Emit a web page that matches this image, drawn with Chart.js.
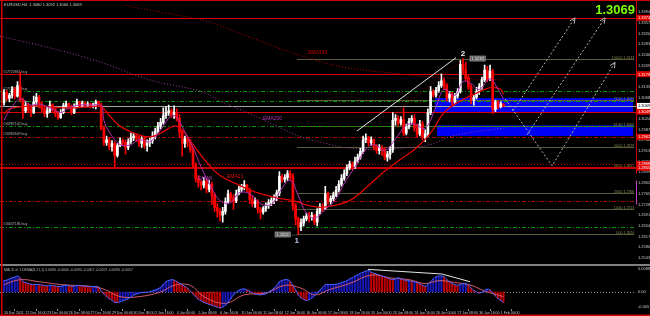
<!DOCTYPE html>
<html>
<head>
<meta charset="utf-8">
<title>EURUSD H4</title>
<script src="https://cdn.jsdelivr.net/npm/chart.js@4.4.1/dist/chart.umd.min.js"></script>
<style>
  html, body { margin: 0; padding: 0; background: #000; }
  #wrap { position: relative; width: 650px; height: 316px; overflow: hidden; background: #000; }
  canvas { position: absolute; left: 0; }
  #main { top: 0; }
  #macd { top: 264px; }
</style>
</head>
<body>
<div id="wrap">
  <canvas id="main" width="650" height="264"></canvas>
  <canvas id="macd" width="650" height="52"></canvas>
</div>
<script>
// EURUSD H4, 20 Dec 2011 08:00 .. 1 Feb 2012 04:00 (bar index 0..185)
const firstOpen = 1.3079;
const closes = [
  1.3116,1.3096,1.3106,1.3126,1.3103,1.3139,1.3089,1.3052,1.3072,1.3056,
  1.3046,1.3083,1.3099,1.3072,1.3059,1.3042,1.3052,1.3072,1.3059,1.3042,
  1.3029,1.3046,1.3069,1.3076,1.3066,1.3046,1.3066,1.3083,1.3072,1.3079,
  1.3072,1.3076,1.3069,1.3072,1.3083,1.3072,1.2992,1.2942,1.2952,1.2928,
  1.2939,1.2898,1.2932,1.2949,1.2942,1.2925,1.2945,1.2959,1.2965,1.2959,
  1.2939,1.2955,1.2932,1.2942,1.2949,1.2965,1.2982,1.2999,1.3012,1.3036,
  1.3046,1.3052,1.3039,1.3046,1.3026,1.2979,1.2939,1.2955,1.2945,1.2918,
  1.2865,1.2818,1.2805,1.2795,1.2808,1.2781,1.2798,1.2761,1.2718,1.2704,
  1.2691,1.2704,1.2738,1.2765,1.2751,1.2741,1.2765,1.2781,1.2788,1.2795,
  1.2778,1.2745,1.2731,1.2738,1.2711,1.2701,1.2714,1.2724,1.2734,1.2741,
  1.2751,1.2768,1.2825,1.2815,1.2821,1.2835,1.2825,1.2724,1.2678,1.2651,
  1.2664,1.2678,1.2688,1.2684,1.2691,1.2667,1.2704,1.2721,1.2714,1.2765,
  1.2738,1.2748,1.2761,1.2778,1.2798,1.2818,1.2835,1.2855,1.2868,1.2858,
  1.2878,1.2892,1.2912,1.2952,1.2959,1.2942,1.2952,1.2928,1.2915,1.2925,
  1.2918,1.2892,1.2902,1.2918,1.3019,1.3026,1.3009,1.3022,1.2975,1.2996,
  1.3016,1.3026,1.2992,1.2972,1.3006,1.2959,1.2972,1.3046,1.3119,1.3106,
  1.3123,1.3139,1.3156,1.3139,1.3096,1.3109,1.3083,1.3103,1.3119,1.3213,
  1.3193,1.3166,1.3136,1.3089,1.3099,1.3119,1.3136,1.3159,1.3193,1.3163,
  1.3190,1.3056,1.3083,1.3066,1.3076,1.3069
];
const highs = [
  1.3126,1.3123,1.3113,1.3136,1.3133,1.3153,1.3186,1.3096,1.3086,1.3079,
  1.3069,1.3103,1.3113,1.3106,1.3083,1.3069,1.3066,1.3086,1.3076,1.3062,
  1.3049,1.3056,1.3079,1.3086,1.3079,1.3072,1.3076,1.3093,1.3086,1.3086,
  1.3083,1.3083,1.3079,1.3079,1.3089,1.3086,1.3079,1.2999,1.2965,1.2959,
  1.2949,1.2945,1.2939,1.2959,1.2955,1.2952,1.2955,1.2975,1.2975,1.2972,
  1.2965,1.2965,1.2962,1.2952,1.2959,1.2979,1.2992,1.3012,1.3026,1.3062,
  1.3066,1.3072,1.3059,1.3069,1.3059,1.3039,1.2986,1.2965,1.2962,1.2952,
  1.2925,1.2872,1.2828,1.2811,1.2821,1.2815,1.2811,1.2805,1.2768,1.2731,
  1.2714,1.2718,1.2751,1.2778,1.2771,1.2761,1.2778,1.2791,1.2798,1.2811,
  1.2798,1.2785,1.2758,1.2751,1.2745,1.2718,1.2721,1.2734,1.2745,1.2751,
  1.2761,1.2778,1.2842,1.2831,1.2831,1.2845,1.2845,1.2835,1.2731,1.2684,
  1.2678,1.2688,1.2698,1.2701,1.2701,1.2694,1.2714,1.2731,1.2731,1.2791,
  1.2771,1.2758,1.2771,1.2791,1.2811,1.2831,1.2848,1.2865,1.2878,1.2875,
  1.2892,1.2902,1.2922,1.2965,1.2972,1.2965,1.2962,1.2955,1.2935,1.2935,
  1.2932,1.2925,1.2912,1.2928,1.3046,1.3039,1.3036,1.3032,1.3062,1.3006,
  1.3026,1.3036,1.3039,1.3006,1.3019,1.3016,1.2986,1.3059,1.3136,1.3126,
  1.3133,1.3153,1.3180,1.3166,1.3146,1.3119,1.3116,1.3113,1.3129,1.3226,
  1.3233,1.3220,1.3176,1.3143,1.3106,1.3133,1.3146,1.3169,1.3210,1.3206,
  1.3210,1.3196,1.3089,1.3086,1.3083,1.3076
];
const lows = [
  1.3072,1.3086,1.3083,1.3096,1.3093,1.3099,1.3083,1.3026,1.3046,1.3046,
  1.3032,1.3042,1.3072,1.3062,1.3049,1.3032,1.3029,1.3046,1.3046,1.3032,
  1.3022,1.3026,1.3042,1.3062,1.3059,1.3039,1.3042,1.3062,1.3066,1.3066,
  1.3066,1.3066,1.3062,1.3062,1.3059,1.3066,1.2986,1.2932,1.2932,1.2918,
  1.2912,1.2858,1.2892,1.2928,1.2932,1.2902,1.2918,1.2939,1.2949,1.2945,
  1.2928,1.2925,1.2922,1.2912,1.2928,1.2939,1.2955,1.2975,1.2989,1.3006,
  1.3026,1.3036,1.3029,1.3026,1.3016,1.2959,1.2895,1.2925,1.2928,1.2908,
  1.2855,1.2805,1.2788,1.2778,1.2785,1.2768,1.2771,1.2728,1.2704,1.2684,
  1.2671,1.2667,1.2694,1.2731,1.2738,1.2711,1.2734,1.2761,1.2771,1.2778,
  1.2771,1.2731,1.2721,1.2718,1.2698,1.2678,1.2694,1.2704,1.2714,1.2724,
  1.2731,1.2741,1.2758,1.2805,1.2805,1.2811,1.2815,1.2708,1.2657,1.2624,
  1.2637,1.2654,1.2671,1.2667,1.2674,1.2657,1.2654,1.2694,1.2704,1.2711,
  1.2728,1.2728,1.2741,1.2755,1.2771,1.2791,1.2811,1.2828,1.2848,1.2848,
  1.2852,1.2872,1.2885,1.2905,1.2942,1.2932,1.2932,1.2918,1.2905,1.2902,
  1.2898,1.2882,1.2878,1.2885,1.2908,1.3002,1.2999,1.3002,1.2965,1.2969,
  1.2989,1.3006,1.2982,1.2962,1.2965,1.2952,1.2945,1.2962,1.3039,1.3099,
  1.3099,1.3116,1.3133,1.3126,1.3086,1.3083,1.3072,1.3076,1.3096,1.3113,
  1.3180,1.3156,1.3126,1.3076,1.3072,1.3093,1.3109,1.3126,1.3153,1.3153,
  1.3156,1.3042,1.3049,1.3059,1.3062,1.3066
];

// MACD panel, one value per bar, signal read at fewer points
const macdValues = [
  0.0044,0.0046,0.0051,0.0055,0.0058,0.0062,0.0055,0.0040,0.0037,0.0033,
  0.0030,0.0029,0.0030,0.0029,0.0027,0.0025,0.0024,0.0026,0.0025,0.0023,
  0.0021,0.0022,0.0025,0.0026,0.0025,0.0022,0.0023,0.0026,0.0025,0.0024,
  0.0023,0.0022,0.0021,0.0021,0.0022,0.0020,0.0004,-0.0008,-0.0018,-0.0026,
  -0.0032,-0.0040,-0.0041,-0.0038,-0.0034,-0.0030,-0.0026,-0.0020,-0.0012,-0.0008,
  -0.0004,-0.0002,-0.0001,-0.0001,0.0002,0.0004,0.0008,0.0012,0.0018,0.0030,
  0.0040,0.0045,0.0048,0.0046,0.0041,0.0034,0.0028,0.0022,0.0015,0.0004,
  -0.0007,-0.0018,-0.0029,-0.0034,-0.0040,-0.0044,-0.0048,-0.0051,-0.0055,-0.0059,
  -0.0062,-0.0058,-0.0051,-0.0040,-0.0026,-0.0011,-0.0001,0.0007,0.0011,0.0012,
  0.0008,0.0003,-0.0004,-0.0007,-0.0010,-0.0011,-0.0010,-0.0007,-0.0001,0.0007,
  0.0015,0.0025,0.0040,0.0045,0.0048,0.0048,0.0041,0.0025,0.0008,-0.0011,
  -0.0022,-0.0029,-0.0033,-0.0030,-0.0023,-0.0015,-0.0004,0.0007,0.0018,0.0029,
  0.0029,0.0029,0.0030,0.0030,0.0033,0.0037,0.0040,0.0044,0.0051,0.0055,
  0.0062,0.0066,0.0073,0.0077,0.0081,0.0084,0.0077,0.0073,0.0070,0.0066,
  0.0062,0.0059,0.0055,0.0051,0.0048,0.0051,0.0055,0.0051,0.0048,0.0044,
  0.0044,0.0040,0.0040,0.0037,0.0033,0.0026,0.0022,0.0029,0.0040,0.0051,
  0.0059,0.0062,0.0062,0.0059,0.0048,0.0040,0.0033,0.0029,0.0026,0.0029,
  0.0033,0.0033,0.0026,0.0015,0.0007,0.0000,-0.0004,-0.0001,0.0007,0.0011,
  0.0008,-0.0004,-0.0015,-0.0026,-0.0033,-0.0040
];
const signalBars = [0, 6, 13, 21, 32, 37, 43, 50, 58, 63, 69, 74, 82, 89, 97, 104, 110, 115, 121, 128, 136, 143, 150, 156, 161, 167, 173, 178, 185];
const signalValues = [0.0029, 0.0048, 0.0040, 0.0029, 0.0022, 0.0011, -0.0018, -0.0018, 0.0000, 0.0026, 0.0026, -0.0018, -0.0044, -0.0011, -0.0004, 0.0026, 0.0015, -0.0011, 0.0011, 0.0033, 0.0066, 0.0055, 0.0048, 0.0033, 0.0044, 0.0037, 0.0026, 0.0004, -0.0018];

// moving averages
const ema8Bars = [0, 2, 6, 10, 13, 17, 21, 24, 28, 32, 36, 37, 39, 43, 47, 50, 54, 58, 62, 64, 67, 70, 73, 76, 80, 84, 87, 91, 95, 99, 102, 106, 109, 112, 115, 119, 123, 126, 130, 134, 137, 141, 145, 149, 152, 156, 160, 163, 167, 170, 173, 176, 180, 183, 185];
const ema8Values = [1.3019, 1.3052, 1.3093, 1.3072, 1.3076, 1.3062, 1.3046, 1.3062, 1.3072, 1.3072, 1.3069, 1.3019, 1.2979, 1.2935, 1.2935, 1.2952, 1.2945, 1.2986, 1.3036, 1.3029, 1.2979, 1.2925, 1.2858, 1.2801, 1.2741, 1.2734, 1.2768, 1.2765, 1.2731, 1.2728, 1.2771, 1.2811, 1.2758, 1.2698, 1.2681, 1.2711, 1.2748, 1.2801, 1.2858, 1.2918, 1.2935, 1.2915, 1.2955, 1.3002, 1.3006, 1.2992, 1.3066, 1.3126, 1.3106, 1.3153, 1.3146, 1.3126, 1.3163, 1.3126, 1.3093];
const ema21Bars = [0, 2, 6, 12, 17, 24, 32, 36, 39, 43, 49, 54, 58, 62, 64, 67, 70, 75, 80, 87, 94, 101, 107, 113, 117, 122, 128, 134, 140, 147, 152, 158, 163, 169, 174, 178, 181, 184, 185];
const ema21Values = [1.3042, 1.3059, 1.3066, 1.3069, 1.3066, 1.3062, 1.3066, 1.3066, 1.3036, 1.2999, 1.2972, 1.2962, 1.2975, 1.2996, 1.2999, 1.2975, 1.2935, 1.2875, 1.2828, 1.2795, 1.2768, 1.2751, 1.2741, 1.2724, 1.2718, 1.2724, 1.2741, 1.2785, 1.2835, 1.2885, 1.2918, 1.2975, 1.3046, 1.3086, 1.3109, 1.3126, 1.3133, 1.3126, 1.3109];
const ema200Bars = [-1.5, 17, 36, 54, 73, 80, 91, 102, 110, 121, 126, 139, 150, 158, 165, 174, 185];
const ema200Values = [1.3310, 1.3270, 1.3220, 1.3159, 1.3119, 1.3086, 1.3042, 1.2995, 1.2962, 1.2935, 1.2925, 1.2918, 1.2925, 1.2935, 1.2962, 1.2979, 1.2992];
const ema365Bars = [39, 47, 58, 73, 80, 95, 110, 126, 147, 158, 173, 185];
const ema365Values = [1.3437, 1.3414, 1.3394, 1.3367, 1.3347, 1.3293, 1.3243, 1.3203, 1.3180, 1.3169, 1.3163, 1.3159];
const emaLabelText = ['EMA365', 'EMA200', 'EMA21', 'EMA8'];
const emaLabelBars = [112.6, 95.9, 82.6, 71.9];
const emaLabelPrices = [1.3250, 1.3022, 1.2821, 1.2811];

// axes
const xMin = -1.48, xMax = 234.07;
const xTickBars = [0, 8, 16, 24, 32, 40, 48, 56, 64, 72, 80, 88, 96, 104, 112, 120, 128, 136, 144, 152, 160, 168, 176, 184];
const xTickLabels = ['20 Dec 2011', '21 Dec 16:00', '23 Dec 00:00', '26 Dec 08:00', '27 Dec 16:00', '29 Dec 00:00',
  '30 Dec 08:00', '2 Jan 16:00', '4 Jan 00:00', '5 Jan 08:00', '6 Jan 16:00', '10 Jan 00:00', '11 Jan 08:00',
  '12 Jan 16:00', '16 Jan 00:00', '17 Jan 08:00', '18 Jan 16:00', '20 Jan 00:00', '23 Jan 08:00', '24 Jan 16:00',
  '26 Jan 00:00', '27 Jan 08:00', '30 Jan 16:00', '1 Feb 00:00'];
const priceTicks = [1.2543, 1.2580, 1.2617, 1.2654, 1.2691, 1.2728, 1.2765, 1.2802, 1.2839, 1.2876, 1.2913, 1.2950,
  1.2987, 1.3024, 1.3061, 1.3098, 1.3135, 1.3172, 1.3209, 1.3246, 1.3283, 1.3320, 1.3357, 1.3394];
const macdTicks = [-0.0057, 0, 0.0088];

// levels and objects on the chart
const solidRedLevels = [1.3374, 1.3179, 1.3049];
const thickRedLevels = [1.2855];
const dashRedLevels = [1.2962, 1.2741];
const dotRedLevels = [1.2868];
const greenLevels = [1.3119, 1.3086, 1.2999, 1.2651];
const axisRedLevels = [1.3374, 1.3179, 1.3049, 1.2962, 1.2868, 1.2855];
const orderLevels = [1.3179, 1.3119, 1.2999, 1.2962, 1.2651];
const orderTickets = ['#17725861 buy', '#17728530 buy', '#16987102 buy', '#16982609 buy', '#16637186 buy'];

const fibLow = 1.2624, fibHigh = 1.3233, fibFromBar = 108.5, fibToBar = 233.4;
const fibLevels = [0, 14.6, 23.6, 38.2, 50, 61.8, 76.4, 100];

const zoneHigh = [1.3096, 1.3002];
const zoneLow = [1.3046, 1.2965];
const zoneFrom = [159.6, 160.4];
const zoneTo = [233, 233];

const trendBars = [130.7, 167.4], trendPrices = [1.2982, 1.3236];
const channelBars = [144.8, 168.9], channelPrices = [1.3046, 1.3220];
const arrowABars = [188.5, 211.5], arrowAPrices = [1.3052, 1.3374];
const arrowBBars = [193.7, 222.6], arrowBPrices = [1.2969, 1.3374];
const arrowCBars = [185.6, 203, 226.3], arrowCPrices = [1.3093, 1.2862, 1.3220];
const waveBars = [109, 170];
const divergenceBars = [134.8, 162.2, 172.6], divergenceValues = [0.0088, 0.0070, 0.0040];

const FONT = 'Liberation Sans';
Chart.defaults.font.family = FONT;

const opens = closes.map((c, i) => i === 0 ? firstOpen : closes[i - 1]);
const candleColors = closes.map((c, i) => c >= opens[i] ? '#ffffff' : '#ff0000');
const pts = (bars, vals) => bars.map((b, k) => ({ x: b, y: vals[k] }));

function path(ctx, p, color, width, dash) {
    ctx.save();
    ctx.strokeStyle = color;
    ctx.lineWidth = width;
    ctx.setLineDash(dash || []);
    ctx.beginPath();
    p.forEach((q, k) => k ? ctx.lineTo(q[0], q[1]) : ctx.moveTo(q[0], q[1]));
    ctx.stroke();
    ctx.restore();
}

function arrowHead(ctx, from, to, color) {
    const a = Math.atan2(to[1] - from[1], to[0] - from[0]);
    path(ctx, [
        [to[0] - 6 * Math.cos(a - 0.45), to[1] - 6 * Math.sin(a - 0.45)],
        to,
        [to[0] - 6 * Math.cos(a + 0.45), to[1] - 6 * Math.sin(a + 0.45)]
    ], color, 1);
}

function label(ctx, str, x, y, color, font, align) {
    ctx.save();
    ctx.font = font;
    ctx.fillStyle = color;
    ctx.textAlign = align || 'left';
    ctx.textBaseline = 'alphabetic';
    ctx.fillText(str, x, y);
    ctx.restore();
}

function priceBox(ctx, str, x, yc, alignRight) {
    ctx.save();
    ctx.font = '4px ' + FONT;
    const w = ctx.measureText(str).width + 3;
    const x0 = alignRight ? x - w : x;
    ctx.fillStyle = '#5c5c5c';
    ctx.fillRect(x0, yc - 2.5, w, 5);
    ctx.strokeStyle = '#b4b4b4';
    ctx.lineWidth = 0.6;
    ctx.strokeRect(x0, yc - 2.5, w, 5);
    ctx.fillStyle = '#f0f0f0';
    ctx.fillText(str, x0 + 1.5, yc + 1.5);
    ctx.restore();
}

const mainDecor = {
    id: 'mainDecor',
    beforeDatasetsDraw(chart) {
        const { ctx, chartArea: a, scales: { x, y } } = chart;
        ctx.save();
        ctx.beginPath();
        ctx.rect(a.left, a.top, a.right - a.left, a.bottom - a.top);
        ctx.clip();

        // blue zones
        ctx.fillStyle = '#0000f4';
        zoneHigh.forEach((h, k) => {
            const x0 = x.getPixelForValue(zoneFrom[k]), x1 = x.getPixelForValue(zoneTo[k]);
            const y0 = y.getPixelForValue(h), y1 = y.getPixelForValue(zoneLow[k]);
            ctx.fillRect(x0, y0, x1 - x0, y1 - y0);
        });

        // fibonacci levels
        const fx0 = x.getPixelForValue(fibFromBar), fx1 = x.getPixelForValue(fibToBar);
        fibLevels.forEach(l => {
            const p = fibLow + (fibHigh - fibLow) * l / 100;
            const py = Math.round(y.getPixelForValue(p)) + 0.5;
            path(ctx, [[fx0, py], [fx1, py]], '#5c5c38', 1);
            label(ctx, l.toFixed(2) + ' ' + p.toFixed(4), fx1, py - 1, '#8e8e52', '3.5px ' + FONT, 'right');
        });

        const hl = (p, color, w, dash) => {
            const py = Math.round(y.getPixelForValue(p)) + (w % 2 ? 0.5 : 0);
            path(ctx, [[a.left, py], [a.right, py]], color, w, dash);
        };
        greenLevels.forEach(p => hl(p, '#009a00', 1, [4, 2, 1, 2]));
        dashRedLevels.forEach(p => hl(p, '#b40000', 1, [4, 2, 1, 2]));
        dotRedLevels.forEach(p => hl(p, '#b40000', 1, [1, 2]));
        solidRedLevels.forEach(p => hl(p, '#dc0000', 1));
        thickRedLevels.forEach(p => hl(p, '#c80000', 2));
        hl(closes[closes.length - 1], '#a8a8a8', 1);

        orderLevels.forEach((p, k) => {
            label(ctx, orderTickets[k], a.left + 3, y.getPixelForValue(p) - 1.5, '#b0b0b0', '3.5px ' + FONT);
        });
        ctx.restore();
    },
    afterDatasetsDraw(chart) {
        const { ctx, chartArea: a, scales: { x, y } } = chart;
        const P = (bars, vals) => bars.map((b, k) => [x.getPixelForValue(b), y.getPixelForValue(vals[k])]);
        ctx.save();
        ctx.beginPath();
        ctx.rect(a.left, a.top, a.right - a.left, a.bottom - a.top);
        ctx.clip();

        path(ctx, P(trendBars, trendPrices), '#e6e6e6', 1);
        path(ctx, P(channelBars, channelPrices), '#a00000', 1, [1, 2]);

        [[arrowABars, arrowAPrices], [arrowBBars, arrowBPrices], [arrowCBars, arrowCPrices]].forEach(([b, v]) => {
            const p = P(b, v);
            path(ctx, p, '#b4b4b4', 1, [2, 2]);
            arrowHead(ctx, p[p.length - 2], p[p.length - 1], '#b4b4b4');
        });

        // wave marks and their prices
        const lowBar = waveBars[0], highBar = waveBars[1];
        const lx = x.getPixelForValue(lowBar), ly = y.getPixelForValue(lows[lowBar]);
        const hx = x.getPixelForValue(highBar), hy = y.getPixelForValue(highs[highBar]);
        label(ctx, '1', lx - 1.5, ly + 9, '#b4c4e0', 'bold 8px ' + FONT, 'center');
        label(ctx, '2', hx, hy - 3, '#f0f0f0', 'bold 8px ' + FONT, 'center');
        path(ctx, [[lx - 8, ly + 0.5], [lx - 1, ly + 0.5]], '#b4b4b4', 0.6, [1, 1]);
        priceBox(ctx, lows[lowBar].toFixed(4), lx - 8, ly, true);
        priceBox(ctx, highs[highBar].toFixed(4), hx + 7, hy, false);

        const emaColors = ['#c00000', '#b436b4', '#e01010', '#c040c0'];
        emaLabelText.forEach((t, k) => {
            label(ctx, t, x.getPixelForValue(emaLabelBars[k]), y.getPixelForValue(emaLabelPrices[k]), emaColors[k], '5px ' + FONT);
        });
        ctx.restore();
    },
    afterDraw(chart) {
        const { ctx, chartArea: a, scales: { y } } = chart;
        // price labels on the axis
        axisRedLevels.forEach(p => {
            const py = y.getPixelForValue(p);
            ctx.fillStyle = '#e00000';
            ctx.fillRect(a.right + 1, py - 3, 13, 6);
            label(ctx, p.toFixed(4), a.right + 2, py + 1.5, '#ffffff', '4px ' + FONT);
        });
        const last = closes[closes.length - 1];
        const by = y.getPixelForValue(last);
        ctx.fillStyle = '#ffffff';
        ctx.fillRect(a.right + 1, by - 3, 13, 6);
        label(ctx, last.toFixed(4), a.right + 2, by + 1.5, '#000000', '4px ' + FONT);

        // big bid
        label(ctx, last.toFixed(4), a.right - 1, 13.5, '#7cfc00', 'bold 13px ' + FONT, 'right');

        label(ctx, 'EURUSD,H4  1.3080 1.3092 1.3066 1.3069', 4, 6, '#c8c8c8', '4px ' + FONT);

        // frame
        ctx.fillStyle = '#d00000';
        ctx.fillRect(1, 0, 1.5, chart.height);
        ctx.fillRect(0, 0, chart.width, 1);
        ctx.fillRect(a.right, 0, 1, y.getPixelForValue(1.2835));
        ctx.fillStyle = '#c040c0';
        ctx.fillRect(a.right, y.getPixelForValue(1.2811), 1, y.getPixelForValue(1.2728) - y.getPixelForValue(1.2811));
    }
};

new Chart(document.getElementById('main'), {
    type: 'bar',
    data: {
        datasets: [
            { type: 'line', data: pts(ema8Bars, ema8Values), borderColor: '#b02cb0', borderWidth: 1, pointRadius: 0, tension: 0.4 },
            { type: 'line', data: pts(ema21Bars, ema21Values), borderColor: '#e00000', borderWidth: 1.3, pointRadius: 0, tension: 0.4 },
            { data: closes.map((c, i) => ({ x: i, y: [opens[i], c] })), backgroundColor: candleColors, barThickness: 2, grouped: false, minBarLength: 1 },
            { data: closes.map((c, i) => ({ x: i, y: [lows[i], highs[i]] })), backgroundColor: candleColors, barThickness: 1, grouped: false },
            { type: 'line', data: pts(ema200Bars, ema200Values), borderColor: '#9c3c9c', borderWidth: 1, borderDash: [1, 2], pointRadius: 0, tension: 0.4 },
            { type: 'line', data: pts(ema365Bars, ema365Values), borderColor: '#b40000', borderWidth: 1, borderDash: [1, 2], pointRadius: 0, tension: 0.4 }
        ]
    },
    options: {
        responsive: false,
        animation: false,
        devicePixelRatio: 1,
        layout: { padding: 0, autoPadding: false },
        plugins: { legend: { display: false }, tooltip: { enabled: false } },
        scales: {
            x: { type: 'linear', min: xMin, max: xMax, offset: false, display: false },
            y: {
                type: 'linear', position: 'right', min: 1.25371, max: 1.34204,
                afterBuildTicks: s => { s.ticks = priceTicks.map(v => ({ value: v })); },
                afterFit: s => { s.width = 14; },
                grid: { display: false, drawTicks: false },
                border: { display: false },
                ticks: { autoSkip: false, padding: 2, color: '#c8c8c8', font: { size: 4 }, callback: v => v.toFixed(4) }
            }
        }
    },
    plugins: [mainDecor]
});

const histColors = macdValues.map((v, i) => (i === 0 || v >= macdValues[i - 1]) ? '#1818b4' : '#c00000');

const macdDecor = {
    id: 'macdDecor',
    beforeDatasetsDraw(chart) {
        const { ctx, chartArea: a, scales: { y } } = chart;
        const zy = Math.round(y.getPixelForValue(0)) + 0.5;
        path(ctx, [[a.left, zy], [a.right, zy]], '#8c8c8c', 1, [1, 2]);
    },
    afterDatasetsDraw(chart) {
        const { ctx, scales: { x, y } } = chart;
        path(ctx, divergenceBars.map((b, k) => [x.getPixelForValue(b), y.getPixelForValue(divergenceValues[k])]), '#e6e6e6', 1);
    },
    afterDraw(chart) {
        const { ctx } = chart;
        ctx.fillStyle = '#808080';
        ctx.fillRect(0, 0, chart.width, 2);
        label(ctx, 'MACD of 1 DEMA(8,21,1) 0.0090 -0.0000 -0.0090 -0.0057 -0.0057 -0.0090 -0.0057', 4, 7, '#b4b4b4', '3.5px ' + FONT);
        ctx.fillStyle = '#d00000';
        ctx.fillRect(0, chart.height - 1.5, chart.width, 1.5);
        ctx.fillRect(1, 0, 1.5, chart.height);
    }
};

new Chart(document.getElementById('macd'), {
    type: 'bar',
    data: {
        datasets: [
            { type: 'line', data: macdValues.map((v, i) => ({ x: i, y: v })), borderColor: '#4a64ff', borderWidth: 1, pointRadius: 0, tension: 0.3 },
            { type: 'line', data: pts(signalBars, signalValues), borderColor: '#d05a6a', borderWidth: 1, pointRadius: 0, tension: 0.4 },
            { data: macdValues.map((v, i) => ({ x: i, y: v })), backgroundColor: histColors, barThickness: 1.4, grouped: false }
        ]
    },
    options: {
        responsive: false,
        animation: false,
        devicePixelRatio: 1,
        layout: { padding: { top: 2, left: 0, right: 0, bottom: 0 }, autoPadding: false },
        plugins: { legend: { display: false }, tooltip: { enabled: false } },
        scales: {
            x: {
                type: 'linear', min: xMin, max: xMax, offset: false,
                afterBuildTicks: s => { s.ticks = xTickBars.map(v => ({ value: v })); },
                afterFit: s => { s.height = 7; },
                grid: { drawOnChartArea: false, drawTicks: true, tickLength: 2, color: '#8c8c8c' },
                border: { display: false },
                ticks: { autoSkip: false, maxRotation: 0, minRotation: 0, align: 'start', padding: 0, color: '#c8c8c8', font: { size: 3.5 }, callback: (v, k) => xTickLabels[k] }
            },
            y: {
                type: 'linear', position: 'right', min: -0.0066, max: 0.00918,
                afterBuildTicks: s => { s.ticks = macdTicks.map(v => ({ value: v })); },
                afterFit: s => { s.width = 14; },
                grid: { display: false, drawTicks: false },
                border: { display: false },
                ticks: { autoSkip: false, padding: 2, color: '#c8c8c8', font: { size: 4 }, callback: v => v === 0 ? '0.00' : v.toFixed(4) }
            }
        }
    },
    plugins: [macdDecor]
});
</script>
</body>
</html>
